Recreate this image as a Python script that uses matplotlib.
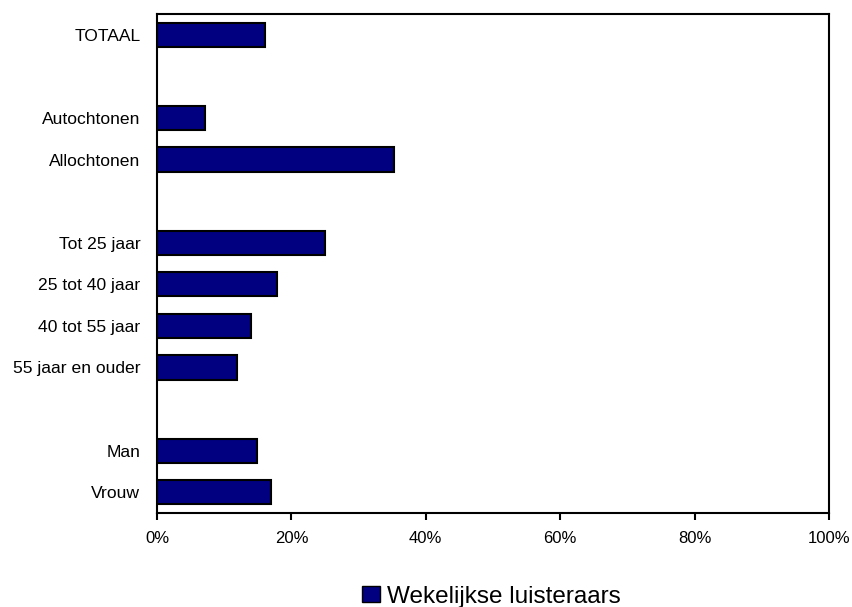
import matplotlib
matplotlib.use("Agg")
import matplotlib.pyplot as plt
from matplotlib.patches import Patch

plt.rcParams['font.family'] = ['Liberation Sans', 'DejaVu Sans']

# categories top to bottom, None = empty slot between groups
categories = ["TOTAAL", None, "Autochtonen", "Allochtonen", None,
              "Tot 25 jaar", "25 tot 40 jaar", "40 tot 55 jaar", "55 jaar en ouder", None,
              "Man", "Vrouw"]
values = [16.1, None, 7.1, 35.3, None, 25.0, 17.9, 14.0, 11.9, None, 14.9, 17.0]
series_name = "Wekelijkse luisteraars"
xticks = [0, 20, 40, 60, 80, 100]

fig = plt.figure(figsize=(8.53, 6.07), dpi=100)
ax = fig.add_axes([157/853, 1 - 513/607, (829 - 157)/853, (513 - 14)/607])

pos = [i for i, c in enumerate(categories) if c is not None]
vals = [values[i] for i in pos]
labels = [categories[i] for i in pos]

ax.barh(pos, vals, height=0.58, color="#000080", edgecolor="black", linewidth=1.5)

ax.set_ylim(len(categories) - 0.5, -0.5)
ax.set_xlim(0, 100)
ax.set_yticks(pos)
ax.set_yticklabels(labels, fontsize=12.6)
ax.set_xticks(xticks)
ax.set_xticklabels([f"{t}%" for t in xticks], fontsize=12)
ax.tick_params(axis="y", length=0, pad=12)
ax.tick_params(axis="x", length=5, width=1.5, pad=8, direction="out")
for s in ax.spines.values():
    s.set_linewidth(1.5)

handle = Patch(facecolor="#000080", edgecolor="black", linewidth=1)
fig.legend([handle], [series_name], loc="center", bbox_to_anchor=(0.576, 0.017),
           frameon=False, fontsize=17.5, handlelength=0.75, handleheight=0.6,
           handletextpad=0.3, borderpad=0)

fig.savefig("out.png", dpi=100)
